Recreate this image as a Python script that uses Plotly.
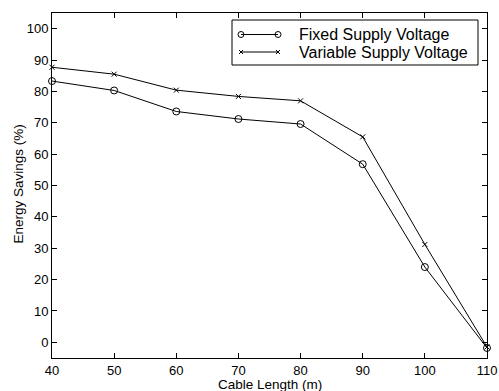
import plotly.graph_objects as go

cable_length = [40, 50, 60, 70, 80, 90, 100, 110]
fixed_supply = [83.3, 80.3, 73.6, 71.2, 69.6, 56.8, 24.0, -1.8]
variable_supply = [87.7, 85.5, 80.4, 78.4, 77.0, 65.5, 31.2, -1.5]

x_ticks = [40, 50, 60, 70, 80, 90, 100, 110]
y_ticks = [0, 10, 20, 30, 40, 50, 60, 70, 80, 90, 100]
series_names = ["Fixed Supply Voltage", "Variable Supply Voltage"]
x_title = "Cable Length (m)"
y_title = "Energy Savings (%)"

FONT = "Liberation Sans, Arial, Helvetica, sans-serif"

fig = go.Figure()
fig.add_trace(go.Scatter(
    x=cable_length, y=fixed_supply, mode="lines+markers",
    name=series_names[0], showlegend=False, cliponaxis=False,
    line=dict(color="black", width=1),
    marker=dict(symbol="circle-open", size=7, color="black", line=dict(width=1)),
))
fig.add_trace(go.Scatter(
    x=cable_length, y=variable_supply, mode="lines+markers",
    name=series_names[1], showlegend=False, cliponaxis=False,
    line=dict(color="black", width=1),
    marker=dict(symbol="x-thin-open", size=5, color="black", line=dict(width=1)),
))

axis_common = dict(
    showgrid=False, zeroline=False, showline=True, linecolor="black", linewidth=1,
    mirror="ticks", ticks="inside", ticklen=5, tickcolor="black", tickwidth=1,
    tickfont=dict(family=FONT, size=13, color="black"), automargin=False,
)

fig.update_xaxes(range=[40, 110], tickvals=x_ticks, ticktext=[str(v) for v in x_ticks], **axis_common)
fig.update_yaxes(range=[-5, 105], tickvals=y_ticks, ticktext=[str(v) for v in y_ticks], **axis_common)

# ---- layout helpers (page pixels -> paper coords) ----
L, R, T, B = 52, 487, 13, 358
W, H = R - L, B - T
px = lambda p: (p - L) / W
py = lambda p: (B - p) / H

# ---- custom MATLAB-style legend ----
shapes = [dict(type="rect", xref="paper", yref="paper",
               x0=px(232), x1=px(478), y0=py(65), y1=py(20),
               line=dict(color="black", width=1), fillcolor="white", layer="above")]
annotations = []
rows = [34.5, 52]
for i, (name, ry) in enumerate(zip(series_names, rows)):
    shapes.append(dict(type="line", xref="paper", yref="paper",
                       x0=px(241), x1=px(278), y0=py(ry), y1=py(ry),
                       line=dict(color="black", width=1)))
    for mx in (241, 278):
        if i == 0:
            shapes.append(dict(type="circle", xref="paper", yref="paper",
                               xsizemode="pixel", ysizemode="pixel",
                               xanchor=px(mx), yanchor=py(ry),
                               x0=-3, x1=3, y0=-3, y1=3,
                               line=dict(color="black", width=1), fillcolor="rgba(0,0,0,0)"))
        else:
            for sgn in (1, -1):
                shapes.append(dict(type="line", xref="paper", yref="paper",
                                   xsizemode="pixel", ysizemode="pixel",
                                   xanchor=px(mx), yanchor=py(ry),
                                   x0=-2, x1=2, y0=-2 * sgn, y1=2 * sgn,
                                   line=dict(color="black", width=1)))
    annotations.append(dict(text=name, xref="paper", yref="paper",
                            x=px(297), y=py(ry), xanchor="left", yanchor="middle",
                            showarrow=False,
                            font=dict(family=FONT, size=16, color="black")))

# ---- axis titles ----
annotations.append(dict(text=x_title, xref="paper", yref="paper",
                        x=px(269.5), y=py(384), xanchor="center", yanchor="middle",
                        showarrow=False, font=dict(family=FONT, size=13.5, color="black")))
annotations.append(dict(text=y_title, xref="paper", yref="paper", textangle=-90,
                        x=px(18), y=py(184.5), xanchor="center", yanchor="middle",
                        showarrow=False, font=dict(family=FONT, size=13.5, color="black")))

fig.update_layout(
    width=499, height=391,
    margin=dict(l=L, r=499 - R, t=T, b=391 - B),
    plot_bgcolor="white", paper_bgcolor="white",
    font=dict(family=FONT, color="black"),
    shapes=shapes, annotations=annotations,
    showlegend=False,
)

fig.write_html("out.html", config={"displayModeBar": False},
               post_script="document.body.style.margin='0px';")
